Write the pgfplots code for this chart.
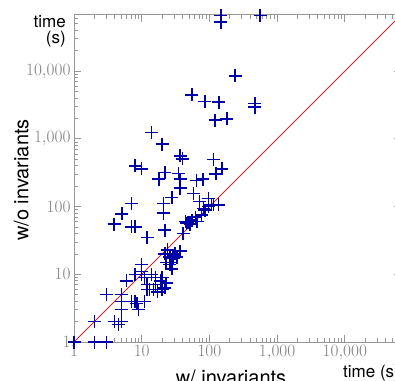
\documentclass[border=0pt]{standalone}
\usepackage{pgfplots}
\pgfplotsset{compat=1.18}
\usepackage{pgfplotstable}
\usepackage{fontspec}
\newfontfamily\helv{TeX Gyre Heros}

\definecolor{axgray}{RGB}{150,150,150}
\definecolor{ticktxt}{RGB}{128,128,128}
\definecolor{markblue}{RGB}{0,0,170}
\definecolor{diagred}{RGB}{210,40,40}

% runtime with invariants (x) vs. without invariants (y), seconds
\pgfplotstableread{
x y
1 1
2 1
3 1
2 2
4 2
5 2
4.5 1.8
3 5
5 5
5 4
5 3
7 4
8 4
8.5 3.7
9 3
6 8
8 10
10 10
10 14
10 11
11 9
12 7
11 4
13 6
15 6
16 9
17 5.5
20 9
20 6
14 10
19 8
16 7
22 6.3
23 7.4
12 6
22 20
24 23
28 15
26 14
29 19
31 20
37 22
26 18
29 17
23 15
28 12
33 18
22 45
21 80
21 112
28 137
37 187
41 40
46 57
44 60
48 58
52 55
55 63
58 157
77 75
86 89
96 100
108 106
96 133
114 106
135 106
72 118
81 94
62 70
66 60
3.9 55
5.1 78
7 112
7.1 50
8 50
12 35
14 1240
20 840
8 400
10 360
37 560
40 505
18 255
22 317
35 310
37 255
65 245
80 255
55 4450
86 3600
138 3500
470 3300
470 2950
121 1900
181 1970
114 500
125 303
153 360
239 8500
148 67000
148 53000
560 67000
}\runtimes

\begin{document}
\begin{tikzpicture}
\begin{axis}[
  xmode=log, ymode=log,
  scale only axis,
  width=327pt, height=327pt,
  xmin=1, xmax=67600, ymin=1, ymax=67600,
  clip=false,
  axis line style={axgray, line width=1pt},
  every tick/.style={axgray, line width=0.8pt},
  major tick length=7pt,
  minor tick length=4.5pt,
  tick align=inside,
  log ticks with fixed point,
  /pgf/number format/1000 sep={\mathord{,}},
  tick label style={text=ticktxt, font=\fontsize{16}{16}\selectfont},
  xlabel={},
  ylabel={},
]
\coordinate (O) at (rel axis cs:0,0);
\addplot[diagred, line width=1pt, no marks] coordinates {(1,1) (67600,67600)};
\addplot[only marks, mark=+, mark size=6.5pt, mark options={markblue, line width=1.4pt}]
  table[x=x, y=y] {\runtimes};
\end{axis}

% axis titles
\node[anchor=base, font=\helv\fontsize{20}{20}\selectfont] at ([shift={(157pt,-42pt)}]O) {w/ invariants};
\node[anchor=base, rotate=90, font=\helv\fontsize{20}{20}\selectfont] at ([shift={(-45.5pt,162pt)}]O) {w/o invariants};
% unit captions
\node[anchor=base east, inner sep=0pt, font=\helv\fontsize{17}{17}\selectfont] at ([shift={(-8pt,314pt)}]O) {time};
\node[anchor=base east, inner sep=0pt, font=\helv\fontsize{17}{17}\selectfont] at ([shift={(-8pt,298.5pt)}]O) {(s)};
\node[anchor=base west, inner sep=0pt, font=\helv\fontsize{17}{17}\selectfont] at ([shift={(269pt,-35pt)}]O) {time (s)};

\pgfresetboundingbox
\path[use as bounding box] ([shift={(-74pt,-38pt)}]O) rectangle ([shift={(321pt,342pt)}]O);
\end{tikzpicture}
\end{document}
